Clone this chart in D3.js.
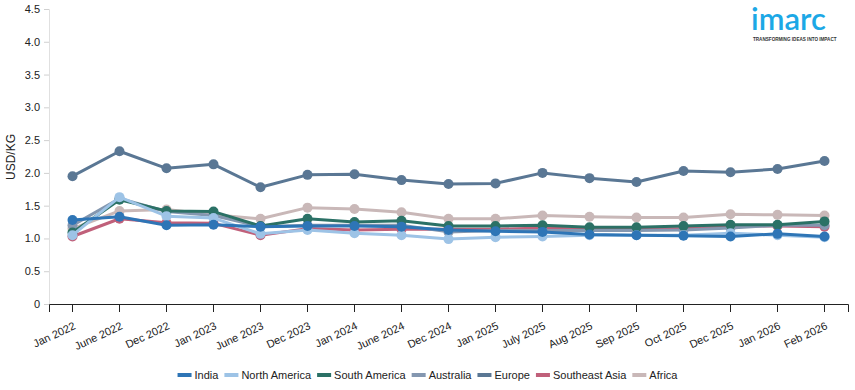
<!DOCTYPE html>
<html><head><meta charset="utf-8">
<script src="https://cdn.jsdelivr.net/npm/d3@7"></script>
<style>body{margin:0;background:#fff;font-family:"Liberation Sans",Arial,sans-serif}</style>
</head><body><svg id="c" width="855" height="390"></svg>
<script>
const categories=["Jan 2022","June 2022","Dec 2022","Jan 2023","June 2023","Dec 2023","Jan 2024","June 2024","Dec 2024","Jan 2025","July 2025","Aug 2025","Sep 2025","Oct 2025","Dec 2025","Jan 2026","Feb 2026"];
const seriesNames=["India","North America","South America","Australia","Europe","Southeast Asia","Africa"];
const seriesColors=["#2e75b6","#9dc3e6","#2b7166","#8497b0","#5a7794","#c0607a","#c9b8b8"];
const india=[1.28,1.33,1.20,1.21,1.18,1.19,1.19,1.18,1.13,1.11,1.10,1.06,1.05,1.04,1.03,1.07,1.03];
const northAmerica=[1.05,1.63,1.34,1.31,1.07,1.13,1.08,1.05,0.99,1.02,1.03,1.05,1.05,1.05,1.08,1.05,1.02];
const southAmerica=[1.09,1.59,1.42,1.41,1.19,1.30,1.25,1.27,1.19,1.19,1.20,1.17,1.17,1.19,1.21,1.21,1.26];
const australia=[1.20,1.61,1.41,1.35,1.18,1.20,1.20,1.20,1.10,1.12,1.12,1.12,1.12,1.13,1.16,1.20,1.20];
const europe=[1.95,2.33,2.07,2.13,1.78,1.97,1.98,1.89,1.83,1.84,2.00,1.92,1.86,2.03,2.01,2.06,2.18];
const southeastAsia=[1.03,1.30,1.24,1.23,1.05,1.15,1.13,1.14,1.14,1.14,1.16,1.14,1.14,1.15,1.19,1.19,1.18];
const africa=[1.15,1.42,1.44,1.36,1.30,1.47,1.45,1.40,1.30,1.30,1.35,1.33,1.32,1.32,1.37,1.36,1.35];
const yTicks=[0,0.5,1.0,1.5,2.0,2.5,3.0,3.5,4.0,4.5];
const allValues=[india,northAmerica,southAmerica,australia,europe,southeastAsia,africa];

const svg=d3.select("#c");
const m={l:49,r:7,t:9,b:86};
const W=855,H=390;
const x=d3.scaleBand().domain(categories).range([m.l,W-m.r]).padding(0);
const y=d3.scaleLinear().domain([0,4.5]).range([H-m.b,m.t]);
const cx=c=>x(c)+x.bandwidth()/2;

// y axis
const ya=svg.append("g").attr("transform",`translate(${m.l},0)`)
 .call(d3.axisLeft(y).tickValues(yTicks).tickFormat(d=>d===0?"0":d3.format(".1f")(d)).tickSize(5).tickPadding(4));
ya.select(".domain").attr("stroke","#e0e0e0");
ya.selectAll(".tick line").attr("stroke","#d0d0d0");
ya.selectAll("text").attr("font-size","11px").attr("fill","#222").attr("font-family","Liberation Sans, Arial, sans-serif");

// x axis
const xa=svg.append("g").attr("transform",`translate(0,${H-m.b})`)
 .call(d3.axisBottom(x).tickSizeOuter(0).tickSize(8));
xa.select(".domain").attr("stroke","#222");
xa.selectAll(".tick line").attr("stroke","#222");
xa.selectAll("text").attr("font-size","11px").attr("fill","#222").attr("font-family","Liberation Sans, Arial, sans-serif")
 .attr("text-anchor","end").attr("dx","0.3em").attr("dy","0.9em").attr("transform","translate(-8,7) rotate(-25)");

svg.append("text").attr("transform","translate(15,157) rotate(-90)").attr("text-anchor","middle")
 .attr("font-size","12px").attr("fill","#222").text("USD/KG");

const line=d3.line().x((d,i)=>cx(categories[i])).y(d=>y(d));
for(let s=seriesNames.length-1;s>=0;s--){
  const g=svg.append("g");
  g.append("path").datum(allValues[s]).attr("d",line).attr("fill","none")
   .attr("stroke",seriesColors[s]).attr("stroke-width",3).attr("stroke-linejoin","round");
  g.selectAll("circle").data(allValues[s]).join("circle")
   .attr("cx",(d,i)=>cx(categories[i])).attr("cy",d=>y(d)).attr("r",5).attr("fill",seriesColors[s]);
}

// legend
const lg=svg.append("g").attr("font-size","11px").attr("fill","#222");
let items=[];let tot=0;
seriesNames.forEach((n,i)=>{
  const t=lg.append("text").text(n).attr("y",379);
  const w=t.node().getComputedTextLength();
  items.push({t,w,i});tot+=14+3+w+(i<seriesNames.length-1?6:0);
});
let lx=(W-tot)/2;
items.forEach(o=>{
  lg.append("rect").attr("x",lx).attr("y",373).attr("width",14).attr("height",4).attr("fill",seriesColors[o.i]);
  o.t.attr("x",lx+17);
  lx+=17+o.w+6;
});

// logo
svg.append("text").attr("x",751).attr("y",30).attr("font-size","31px").attr("font-weight","600")
 .attr("fill","#1ca8e6").attr("font-family","Lato, Arial, sans-serif").text("imarc");
svg.append("text").attr("x",753).attr("y",41).attr("font-size","4.6px").attr("font-weight","bold")
 .attr("fill","#333").text("TRANSFORMING IDEAS INTO IMPACT");
</script></body></html>
